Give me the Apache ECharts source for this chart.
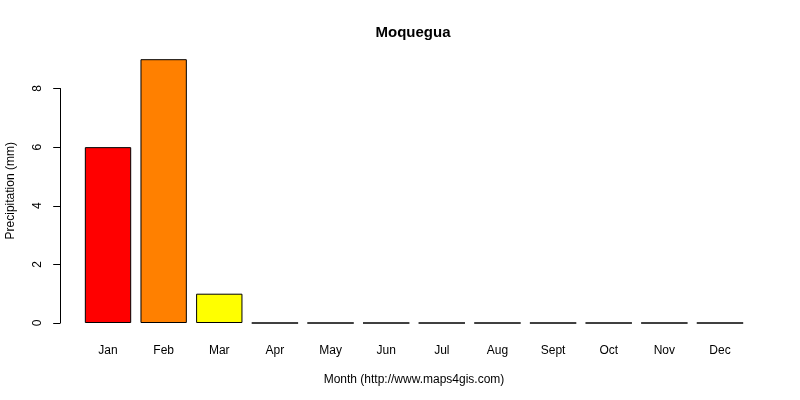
<!DOCTYPE html>
<html><head><meta charset="utf-8">
<script src="https://cdn.jsdelivr.net/npm/echarts@6/dist/echarts.min.js"></script>
<style>html,body{margin:0;padding:0;background:#fff}#c{width:800px;height:400px}</style>
</head><body><div id="c"></div>
<script>
const months = ['Jan','Feb','Mar','Apr','May','Jun','Jul','Aug','Sept','Oct','Nov','Dec'];
const precipitation = [6, 9, 1, 0, 0, 0, 0, 0, 0, 0, 0, 0];
const barColors = ['#FF0000','#FF8000','#FFFF00','#FFFFFF','#FFFFFF','#FFFFFF','#FFFFFF','#FFFFFF','#FFFFFF','#FFFFFF','#FFFFFF','#FFFFFF'];
const yTicks = [0, 2, 4, 6, 8];
const titleText = 'Moquegua';
const xName = 'Month (http://www.maps4gis.com)';
const yName = 'Precipitation (mm)';

const font = 'Liberation Sans, Arial, sans-serif';
const chart = echarts.init(document.getElementById('c'));
chart.setOption({
  animation: false,
  title: { text: titleText, left: 408, top: 20, textAlign: 'center',
    textStyle: { fontFamily: font, fontSize: 15, fontWeight: 'bold', color: '#000' } },
  grid: { left: 80.2, right: 52.2, top: 88.5, bottom: 77, outerBoundsMode: 'none', containLabel: false },
  xAxis: {
    type: 'category', data: months,
    axisLine: { show: false }, axisTick: { show: false },
    axisLabel: { margin: 22, fontFamily: font, fontSize: 12, color: '#000' },
    name: xName, nameLocation: 'middle', nameGap: 51,
    nameTextStyle: { fontFamily: font, fontSize: 12, color: '#000' }
  },
  yAxis: {
    type: 'value', min: yTicks[0], max: yTicks[yTicks.length-1], interval: 2,
    offset: 20,
    splitLine: { show: false },
    axisLine: { show: true, lineStyle: { color: '#000', width: 1 } },
    axisTick: { show: true, length: 7, lineStyle: { color: '#000' } },
    axisLabel: { rotate: 90, margin: 17, fontFamily: font, fontSize: 12, color: '#000' },
    name: yName, nameLocation: 'middle', nameGap: 44, nameRotate: 90,
    nameTextStyle: { fontFamily: font, fontSize: 12, color: '#000', padding: [0, 0, 0, 30] }
  },
  series: [{
    type: 'bar', clip: false,
    barCategoryGap: '16.67%',
    data: precipitation.map((v, i) => ({ value: v, itemStyle: { color: barColors[i] } })),
    itemStyle: { borderColor: '#000', borderWidth: 1 }
  }]
});
</script></body></html>
